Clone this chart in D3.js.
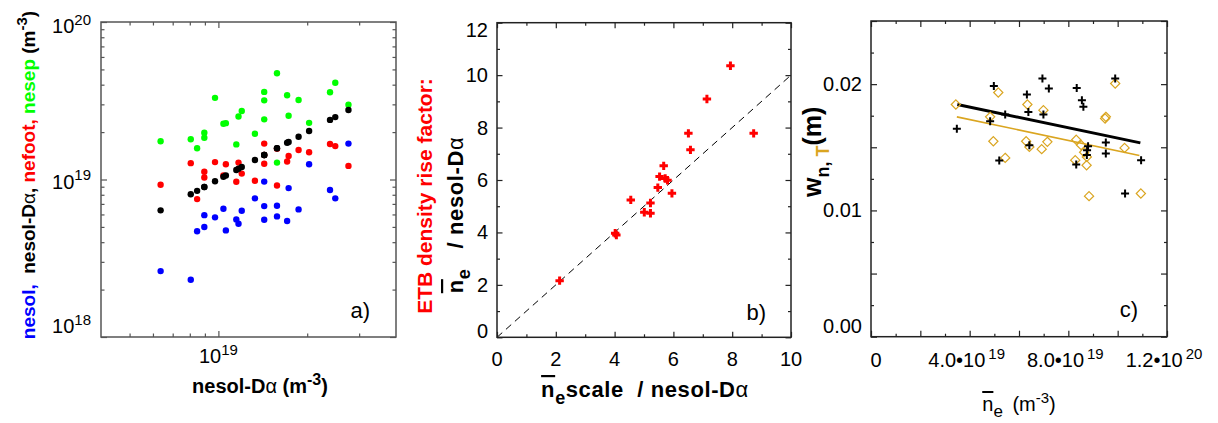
<!DOCTYPE html>
<html>
<head>
<meta charset="utf-8">
<script src="https://cdn.jsdelivr.net/npm/d3@7"></script>
<style>
  html, body { margin: 0; padding: 0; background: #fff; }
  svg { display: block; }
  svg text { white-space: pre; }
</style>
</head>
<body>
<svg id="fig" width="1218" height="423"></svg>
<script>
// ---------- data ----------
// a) separatrix / SOL densities against nesol from D-alpha (m^-3)
const nesolDa = [6.37e18, 8.06e18, 8.47e18, 8.96e18, 8.96e18, 9.74e18, 1.04e19, 1.06e19, 1.15e19, 1.17e19, 1.20e19, 1.33e19,
                 1.43e19, 1.43e19, 1.43e19, 1.58e19, 1.58e19, 1.71e19, 1.73e19, 1.87e19, 2.03e19, 2.39e19, 2.49e19, 2.76e19];
const nesol   = [2.62e18, 2.31e18, 4.69e18, 5.94e18, 4.99e18, 5.75e18, 6.52e18, 4.75e18, 5.58e18, 5.24e18, 6.33e18, 7.59e18,
                 9.70e18, 6.78e18, 5.55e18, 6.81e18, 5.83e18, 5.45e18, 8.82e18, 6.46e18, 1.25e19, 8.57e18, 7.59e18, 1.69e19];
const nefoot  = [9.26e18, 1.27e19, 7.51e18, 1.12e19, 1.03e19, 1.29e19, 1.06e19, 1.25e19, 9.67e18, 1.28e19, 1.09e19, 9.81e18,
                 1.69e19, 1.26e19, 1.43e19, 1.57e19, 9.17e18, 1.30e19, 1.41e19, 1.54e19, 1.49e19, 1.68e19, 1.63e19, 1.22e19];
const nesep   = [1.75e19, 1.80e19, 1.58e19, 1.98e19, 1.84e19, 3.30e19, 2.26e19, 2.28e19, 1.67e19, 2.51e19, 2.72e19, 1.95e19,
                 3.60e19, 2.41e19, 3.18e19, 4.73e19, 1.28e19, 3.43e19, 2.54e19, 3.20e19, 2.29e19, 3.58e19, 4.11e19, 2.98e19];
const aXTicksMajor = [1e19];
const aXTicksMinor = [5e18, 6e18, 7e18, 8e18, 9e18, 2e19, 3e19];
const aYTicksMajor = [1e18, 1e19, 1e20];
const aYTicksMinor = [2e18, 3e18, 4e18, 5e18, 6e18, 7e18, 8e18, 9e18, 2e19, 3e19, 4e19, 5e19, 6e19, 7e19, 8e19, 9e19];

// b) ETB density rise factor against the scaling prediction
const scaleRatio  = [7.94, 7.14, 6.51, 8.73, 6.58, 5.67, 5.53, 5.72, 5.80, 5.47, 5.95, 4.55, 5.22, 5.01, 5.22, 4.02, 4.06, 2.13];
const riseFactor  = [10.36, 9.09, 7.78, 7.78, 7.15, 6.54, 6.13, 6.06, 5.99, 5.71, 5.49, 5.24, 5.12, 4.77, 4.73, 3.97, 3.90, 2.16];
const bXTicks = [0, 2, 4, 6, 8, 10];
const bYTicks = [0, 2, 4, 6, 8, 10, 12];

// c) pedestal widths against line-averaged density
const neW = [3.48e19, 4.98e19, 4.83e19, 5.20e19, 6.95e19, 7.21e19, 6.32e19, 8.34e19, 8.55e19, 8.61e19, 9.90e19, 6.38e19,
             5.44e19, 6.99e19, 6.42e19, 8.80e19, 8.76e19, 8.75e19, 8.32e19, 9.52e19, 9.52e19, 10.95e19, 10.30e19];
const wn  = [0.01646, 0.01986, 0.01707, 0.01396, 0.02044, 0.01965, 0.01918, 0.01970, 0.01873, 0.01820, 0.02044, 0.01780,
             0.01759, 0.01759, 0.01517, 0.01509, 0.01477, 0.01438, 0.01364, 0.01538, 0.01451, 0.01398, 0.01134];
const neT = [3.44e19, 4.83e19, 4.96e19, 5.16e19, 6.34e19, 6.99e19, 6.29e19, 6.42e19, 6.92e19, 7.15e19, 5.44e19, 8.32e19,
             8.52e19, 8.64e19, 8.28e19, 8.74e19, 8.84e19, 9.52e19, 9.49e19, 9.90e19, 10.28e19, 10.94e19, 8.75e19];
const wT  = [0.01839, 0.01741, 0.01548, 0.01934, 0.01839, 0.01794, 0.01548, 0.01503, 0.01485, 0.01543, 0.01416, 0.01560,
             0.01517, 0.01461, 0.01398, 0.01358, 0.01113, 0.01741, 0.01728, 0.02005, 0.01495, 0.01134, 0.01424];
const fitWnX = [3.50e19, 10.92e19], fitWnY = [0.01839, 0.01535];
const fitWtX = [3.48e19, 10.88e19], fitWtY = [0.01741, 0.01435];
const cXTicksMajor = [0, 2e19, 4e19, 6e19, 8e19, 1e20, 1.2e20];
const cXTicksMinor = [1e19, 3e19, 5e19, 7e19, 9e19, 1.1e20];
const cXLabels = [[0, "0", ""], [4e19, "4.0\u202210", "19"], [8e19, "8.0\u202210", "19"], [1.2e20, "1.2\u202210", "20"]];
const cYTicksMajor = [0, 0.005, 0.01, 0.015, 0.02, 0.025];
const cYTicksMinor = [0.0025, 0.0075, 0.0125, 0.0175, 0.0225];
const cYLabels = [0, 0.01, 0.02];

// ---------- styling ----------
const FONT = "'Liberation Sans', Arial, Helvetica, sans-serif";
const BLUE = "#0000ff", RED = "#ff0000", GREEN = "#00ff00", GOLD = "#daa520";
const TICK = 20, SUP = 15;

const svg = d3.select("#fig").attr("font-family", FONT);

// text made of styled runs (superscripts, subscripts, overlines)
function rich(textSel, parts, base) {
  let shift = 0;
  parts.forEach(p => {
    const target = p.sup ? -base * 0.42 : (p.sub ? base * 0.32 : 0);
    const ts = textSel.append("tspan").text(p.t).attr("dy", target - shift);
    shift = target;
    if (p.size) ts.attr("font-size", p.size);
    if (p.fill) ts.attr("fill", p.fill);
    if (p.weight) ts.attr("font-weight", p.weight);
    if (p.over) ts.style("text-decoration", "overline");
    if (p.dx !== undefined) ts.attr("dx", p.dx);
  });
  return textSel;
}

// frame with inward ticks on all four sides
function frame(g, x, y, xMaj, xMin, yMaj, yMin, maj, mnr, color) {
  const [x0, x1] = x.range(), [y0, y1] = y.range();
  const sides = [
    [d3.axisBottom(x), y0],
    [d3.axisTop(x), y1],
  ];
  sides.forEach(([ax, pos]) => {
    g.append("g").attr("transform", `translate(0,${pos})`)
      .call(ax.tickValues(xMaj).tickSize(-maj).tickFormat(""))
      .call(s => s.select(".domain").remove());
    g.append("g").attr("transform", `translate(0,${pos})`)
      .call(ax.tickValues(xMin).tickSize(-mnr).tickFormat(""))
      .call(s => s.select(".domain").remove());
  });
  const vs = [[d3.axisLeft(y), x0], [d3.axisRight(y), x1]];
  vs.forEach(([ax, pos]) => {
    g.append("g").attr("transform", `translate(${pos},0)`)
      .call(ax.tickValues(yMaj).tickSize(-maj).tickFormat(""))
      .call(s => s.select(".domain").remove());
    g.append("g").attr("transform", `translate(${pos},0)`)
      .call(ax.tickValues(yMin).tickSize(-mnr).tickFormat(""))
      .call(s => s.select(".domain").remove());
  });
  g.selectAll(".tick line").attr("stroke", color).attr("stroke-width", 1.2);
  g.append("rect").attr("x", x0).attr("y", y1).attr("width", x1 - x0).attr("height", y0 - y1)
    .attr("fill", "none").attr("stroke", color).attr("stroke-width", 1.5);
}

// ================= panel a =================
{
  const x = d3.scaleLog().domain([4e18, 4e19]).range([101, 396]);
  const y = d3.scaleLog().domain([1e18, 1e20]).range([337, 22]);
  const g = svg.append("g");

  const series = [[nesol, BLUE], [nesep, GREEN], [nefoot, RED], [nesolDa, "#000"]];
  series.forEach(([vals, col]) => {
    g.append("g").selectAll("circle").data(vals).join("circle")
      .attr("cx", (d, i) => x(nesolDa[i])).attr("cy", d => y(d))
      .attr("r", 3.2).attr("fill", col);
  });

  frame(g, x, y, aXTicksMajor, aXTicksMinor, aYTicksMajor, aYTicksMinor, 6, 3.5, "#555");

  aYTicksMajor.forEach(v => {
    const by = Math.min(Math.max(y(v) + 9, 33), 333);
    rich(g.append("text").attr("x", 91).attr("y", by).attr("text-anchor", "end").attr("font-size", TICK),
      [{ t: "10" }, { t: String(Math.round(Math.log10(v))), sup: true, size: SUP }], TICK);
  });
  aXTicksMajor.forEach(v => {
    rich(g.append("text").attr("x", x(v)).attr("y", 363).attr("text-anchor", "middle").attr("font-size", TICK),
      [{ t: "10" }, { t: String(Math.round(Math.log10(v))), sup: true, size: SUP }], TICK);
  });

  rich(g.append("text").attr("x", 260).attr("y", 393).attr("text-anchor", "middle")
      .attr("font-size", 20).attr("font-weight", "bold"),
    [{ t: "nesol-D" }, { t: "\u03b1", weight: "normal" }, { t: " (m" }, { t: "-3", sup: true, size: 16 }, { t: ")" }], 20);

  rich(g.append("text").attr("transform", "translate(35,175) rotate(-90)").attr("text-anchor", "middle")
      .attr("font-size", 19).attr("font-weight", "bold"),
    [{ t: "nesol,", fill: BLUE }, { t: "  nesol-D" }, { t: "\u03b1", weight: "normal" }, { t: ", " },
     { t: "nefoot, ", fill: RED }, { t: "nesep ", fill: GREEN }, { t: "(m" }, { t: "-3", sup: true, size: 15 }, { t: ")" }], 19);

  g.append("text").attr("x", 370).attr("y", 318).attr("text-anchor", "end").attr("font-size", 22).text("a)");
}

// ================= panel b =================
{
  const x = d3.scaleLinear().domain([0, 10]).range([497, 791]);
  const y = d3.scaleLinear().domain([0, 12]).range([337.3, 22.7]);
  const g = svg.append("g");

  g.append("line").attr("x1", x(0)).attr("y1", y(0)).attr("x2", x(10)).attr("y2", y(10))
    .attr("stroke", "#000").attr("stroke-width", 1).attr("stroke-dasharray", "7,5");

  g.append("g").selectAll("path").data(riseFactor).join("path")
    .attr("d", (d, i) => {
      const cx = x(scaleRatio[i]), cy = y(d);
      return `M${cx - 4.2},${cy}H${cx + 4.2}M${cx},${cy - 4.2}V${cy + 4.2}`;
    })
    .attr("stroke", RED).attr("stroke-width", 3).attr("fill", "none");

  frame(g, x, y, bXTicks, [1, 3, 5, 7, 9], bYTicks, [1, 3, 5, 7, 9, 11], 5.5, 3, "#222");

  bYTicks.forEach(v => {
    const by = Math.min(Math.max(y(v) + 7, 37), 338);
    g.append("text").attr("x", 488).attr("y", by).attr("text-anchor", "end").attr("font-size", TICK).text(v);
  });
  bXTicks.forEach(v => {
    g.append("text").attr("x", x(v)).attr("y", 366).attr("text-anchor", "middle").attr("font-size", TICK).text(v);
  });

  rich(g.append("text").attr("x", 645).attr("y", 397).attr("text-anchor", "middle")
      .attr("font-size", 22).attr("font-weight", "bold").attr("letter-spacing", 0.6),
    [{ t: "n", over: true }, { t: "e", sub: true, size: 18 }, { t: "scale  / nesol-D" }, { t: "\u03b1", weight: "normal" }], 22);

  g.append("text").attr("transform", "translate(432,196) rotate(-90)").attr("text-anchor", "middle")
    .attr("font-size", 21).attr("font-weight", "bold").attr("fill", RED).text("ETB density rise factor:");

  rich(g.append("text").attr("transform", "translate(463,215) rotate(-90)").attr("text-anchor", "middle")
      .attr("font-size", 22).attr("font-weight", "bold").attr("letter-spacing", 0.6),
    [{ t: "n", over: true }, { t: "e", sub: true, size: 18 }, { t: "   / nesol-D" }, { t: "\u03b1", weight: "normal" }], 22);

  g.append("text").attr("x", 766).attr("y", 320).attr("text-anchor", "end").attr("font-size", 22).text("b)");
}

// ================= panel c =================
{
  const x = d3.scaleLinear().domain([0, 1.2e20]).range([871, 1167]);
  const y = d3.scaleLinear().domain([0, 0.025]).range([336.7, 21]);
  const g = svg.append("g");

  const line = d3.line().x(d => x(d[0])).y(d => y(d[1]));
  g.append("path").attr("d", line(fitWnX.map((v, i) => [v, fitWnY[i]])))
    .attr("stroke", "#000").attr("stroke-width", 3).attr("fill", "none");
  g.append("path").attr("d", line(fitWtX.map((v, i) => [v, fitWtY[i]])))
    .attr("stroke", GOLD).attr("stroke-width", 1.6).attr("fill", "none");

  g.append("g").selectAll("path").data(wT).join("path")
    .attr("d", (d, i) => {
      const cx = x(neT[i]), cy = y(d), r = 4.6;
      return `M${cx},${cy - r}L${cx + r},${cy}L${cx},${cy + r}L${cx - r},${cy}Z`;
    })
    .attr("stroke", GOLD).attr("stroke-width", 1.2).attr("fill", "none");

  g.append("g").selectAll("path").data(wn).join("path")
    .attr("d", (d, i) => {
      const cx = x(neW[i]), cy = y(d);
      return `M${cx - 4},${cy}H${cx + 4}M${cx},${cy - 4}V${cy + 4}`;
    })
    .attr("stroke", "#000").attr("stroke-width", 2).attr("fill", "none");

  frame(g, x, y, cXTicksMajor, cXTicksMinor, cYTicksMajor, cYTicksMinor, 6, 3, "#222");

  cYLabels.forEach(v => {
    const by = Math.min(y(v) + 7, 333);
    g.append("text").attr("x", 862).attr("y", by).attr("text-anchor", "end").attr("font-size", TICK).text(d3.format(".2f")(v));
  });
  cXLabels.forEach(([v, main, exp]) => {
    const t = g.append("text").attr("x", x(v)).attr("y", 367).attr("text-anchor", "middle").attr("font-size", TICK)
      .attr("dx", v === 0 ? 5 : -3);
    const parts = [{ t: main }];
    if (exp) parts.push({ t: exp, sup: true, size: SUP, dx: 3 });
    rich(t, parts, TICK);
  });

  rich(g.append("text").attr("x", 1019).attr("y", 411).attr("text-anchor", "middle").attr("font-size", 20),
    [{ t: "n", over: true }, { t: "e", sub: true, size: 17 }, { t: " (m", dx: 4 }, { t: "-3", sup: true, size: 15 }, { t: ")" }], 20);

  rich(g.append("text").attr("transform", "translate(821,197) rotate(-90)").attr("text-anchor", "start")
      .attr("font-size", 25).attr("font-weight", "bold"),
    [{ t: "w" }, { t: "n, ", sub: true, size: 18 }, { t: "T", sub: true, size: 18, fill: GOLD }, { t: "(m)" }], 25);

  g.append("text").attr("x", 1138).attr("y", 317).attr("text-anchor", "end").attr("font-size", 22).text("c)");
}
</script>
</body>
</html>
